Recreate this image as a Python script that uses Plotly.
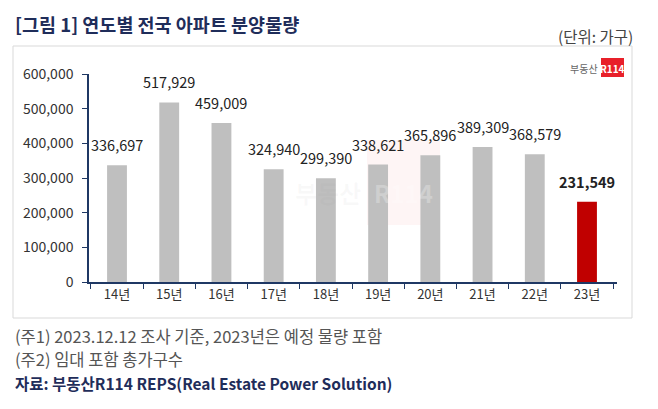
import plotly.graph_objects as go

# === Data ===
years = ["14년", "15년", "16년", "17년", "18년", "19년", "20년", "21년", "22년", "23년"]
supply = [336697, 517929, 459009, 324940, 299390, 338621, 365896, 389309, 368579, 231549]
y_ticks = [0, 100000, 200000, 300000, 400000, 500000, 600000]

# === Styling ===
font_kr = "Noto Sans CJK KR"
navy = "#1f2d5a"
axis_col = "#1f3864"
colors = ["#bfbfbf"] * (len(years) - 1) + ["#c00000"]
labels = [f"{v:,}" for v in supply[:-1]] + [f"<b>{supply[-1]:,}</b>"]

# the page body adds an 8px offset, so screen pixels are shifted back by it
OFF = 8
W, H = 658, 409
L, R, T, B = 89 - OFF, 41 + OFF, 74 - OFF, 127 + OFF
pw, ph = W - L - R, H - T - B


def px(x):
    return (x - OFF - L) / pw


def py(y):
    return (H - B - (y - OFF)) / ph


def note(text, x, y, anchor="left", size=14, color="#555555"):
    return dict(text=text, x=px(x), y=py(y), xref="paper", yref="paper",
                xanchor=anchor, yanchor="middle", showarrow=False,
                font=dict(family=font_kr, size=size, color=color))


fig = go.Figure()
fig.add_trace(go.Bar(
    x=years,
    y=supply,
    marker=dict(color=colors, line=dict(width=0)),
    width=0.38,
    showlegend=False,
))

shapes = [
    # outer frame
    dict(type="rect", xref="paper", yref="paper",
         x0=px(13), x1=px(632), y0=py(318), y1=py(46),
         line=dict(color="#d9d9d9", width=1), layer="below"),
    # faint watermark box
    dict(type="rect", xref="paper", yref="paper",
         x0=px(367), x1=px(440), y0=py(225), y1=py(140),
         fillcolor="rgba(230,80,80,0.06)", line=dict(width=0), layer="below"),
    # logo box
    dict(type="rect", xref="paper", yref="paper",
         x0=px(601), x1=px(624), y0=py(77), y1=py(58),
         fillcolor="#e8202a", line=dict(width=0)),
]

annotations = [
    note("<b>[그림 1] 연도별 전국 아파트 분양물량</b>", 13, 24, size=18.5, color=navy),
    note("(단위: 가구)", 635, 36, anchor="right", size=15.5, color="#444444"),
    note("부동산", 600, 68, anchor="right", size=10, color="#666666"),
    note("<b>R114</b>", 612.5, 68, anchor="center", size=10, color="white"),
    note("<b>부동산</b>", 363, 192, anchor="right", size=24, color="rgba(150,150,150,0.06)"),
    note("<b>R114</b>", 403, 192, anchor="center", size=24, color="rgba(255,255,255,0.25)"),
    note("(주1) 2023.12.12 조사 기준, 2023년은 예정 물량 포함", 13, 336, size=16.5),
    note("(주2) 임대 포함 총가구수", 13, 359, size=16.5),
    note("<b>자료: 부동산R114 REPS(Real Estate Power Solution)</b>", 13, 383, size=15.5, color=navy),
]

# value labels above bars
for yr, v, lab in zip(years, supply, labels):
    annotations.append(dict(
        text=lab, x=yr, y=v, xref="x", yref="y",
        xanchor="center", yanchor="bottom", yshift=8, showarrow=False,
        font=dict(family=font_kr, size=14.5, color="#222222"),
    ))

fig.update_layout(
    width=W, height=H,
    margin=dict(l=L, r=R, t=T, b=B),
    paper_bgcolor="white",
    plot_bgcolor="white",
    shapes=shapes,
    annotations=annotations,
    xaxis=dict(
        type="category", automargin=False,
        showline=True, linecolor=axis_col, linewidth=1.5,
        ticks="outside", tickson="boundaries", ticklen=5, tickcolor=axis_col,
        tickfont=dict(family=font_kr, size=13, color="#333333"),
        showgrid=False,
    ),
    yaxis=dict(
        range=[0, 600000], automargin=False,
        tickvals=y_ticks,
        tickformat=",",
        ticklabelstandoff=6,
        showline=True, linecolor=axis_col, linewidth=1.5,
        ticks="outside", ticklen=5, tickcolor=axis_col,
        tickfont=dict(family=font_kr, size=14, color="#333333"),
        showgrid=False, zeroline=False,
    ),
)

fig.write_html("out.html")
